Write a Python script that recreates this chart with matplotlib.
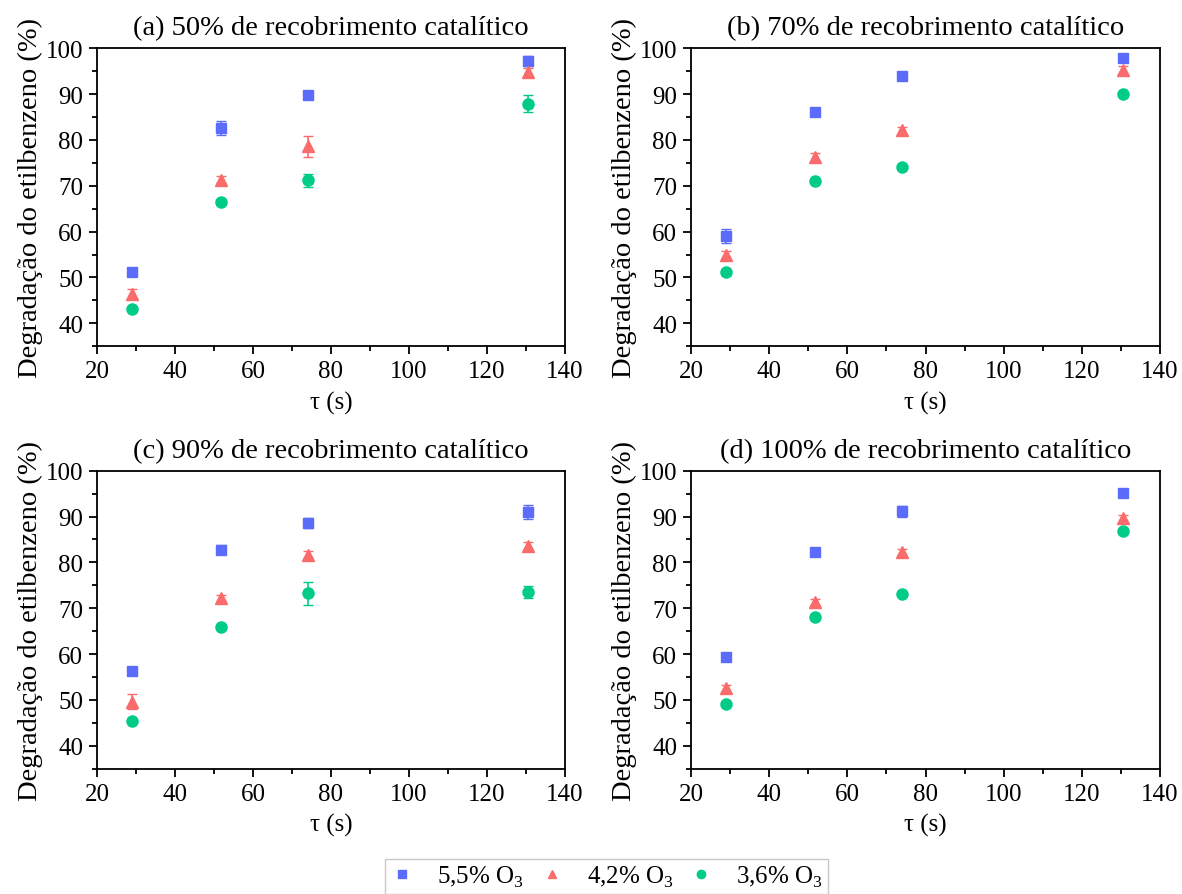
import numpy as np
import matplotlib.pyplot as plt
from matplotlib.ticker import MultipleLocator
from matplotlib.lines import Line2D

plt.rcParams["font.family"] = ["Liberation Serif", "DejaVu Serif"]
plt.rcParams["mathtext.fontset"] = "custom"
plt.rcParams["mathtext.rm"] = "Liberation Serif"

# residence time (s)
tau = [28.9, 51.8, 74.1, 130.5]

titles = ["(a) 50% de recobrimento catalítico",
          "(b) 70% de recobrimento catalítico",
          "(c) 90% de recobrimento catalítico",
          "(d) 100% de recobrimento catalítico"]

labels = ["5,5% O$_3$", "4,2% O$_3$", "3,6% O$_3$"]

# degradation (%) per panel, per O3 level
o3_55 = [[51.2, 82.6, 89.7, 97.2],
         [59.0, 86.2, 93.9, 97.9],
         [56.2, 82.8, 88.6, 91.0],
         [59.3, 82.3, 91.1, 95.1]]
o3_55_err = [[0.3, 1.6, 0.3, 1.0],
             [1.5, 0.6, 0.3, 0.3],
             [0.3, 1.0, 1.0, 1.5],
             [0.3, 0.3, 1.3, 0.6]]
o3_42 = [[46.5, 71.3, 78.6, 94.8],
         [55.0, 76.3, 82.1, 95.2],
         [49.6, 72.2, 81.7, 83.5],
         [52.5, 71.3, 82.2, 89.6]]
o3_42_err = [[1.0, 0.8, 2.3, 0.8],
             [0.8, 0.8, 0.8, 1.0],
             [1.6, 0.7, 0.7, 1.0],
             [0.7, 0.7, 0.7, 0.7]]
o3_36 = [[43.1, 66.5, 71.2, 87.9],
         [51.2, 71.0, 74.0, 90.0],
         [45.4, 65.8, 73.3, 73.5],
         [49.2, 68.1, 73.1, 86.9]]
o3_36_err = [[0.5, 0.6, 1.45, 1.9],
             [0.7, 0.3, 0.3, 0.3],
             [0.3, 0.3, 2.5, 1.3],
             [0.3, 0.3, 0.3, 0.3]]

series = [(o3_55, o3_55_err, "s", "#5b6bfa", 7),
          (o3_42, o3_42_err, "^", "#fa6b6b", 8.5),
          (o3_36, o3_36_err, "o", "#00cc88", 8)]

fig = plt.figure(figsize=(11.82, 8.95), dpi=100)
positions = [[0.082, 0.612, 0.396, 0.333],
             [0.5846, 0.612, 0.3968, 0.333],
             [0.082, 0.140, 0.396, 0.333],
             [0.5846, 0.140, 0.3968, 0.333]]

for i, pos in enumerate(positions):
    ax = fig.add_axes(pos)
    for k, (vals, errs, mk, col, ms) in enumerate(series):
        ax.errorbar(tau, vals[i], yerr=errs[i], fmt=mk, color=col,
                    ms=ms, mec=col, elinewidth=1.2, capsize=3.5,
                    capthick=1.0)
    ax.set_xlim(20, 140)
    ax.set_ylim(35, 100)
    ax.xaxis.set_major_locator(MultipleLocator(20))
    ax.xaxis.set_minor_locator(MultipleLocator(10))
    ax.yaxis.set_minor_locator(MultipleLocator(5))
    ax.set_yticks([40, 50, 60, 70, 80, 90, 100])
    ax.tick_params(which="major", length=6, width=1.3, labelsize=18, pad=4)
    ax.tick_params(which="minor", length=3.5, width=1.3)
    for sp in ax.spines.values():
        sp.set_linewidth(1.3)
    ax.set_title(titles[i], fontsize=20.5, pad=10)
    ax.set_xlabel("τ (s)", fontsize=18, labelpad=6)
    ax.set_ylabel("Degradação do etilbenzeno (%)", fontsize=20.5, labelpad=2)

handles = [Line2D([], [], ls="none", marker=mk, color=col, ms=ms * 0.75)
           for (_, _, mk, col, ms) in series]
leg = fig.legend(handles=handles, labels=labels, loc="lower center", ncol=3,
                 bbox_to_anchor=(0.513, -0.014), fontsize=18, frameon=True,
                 fancybox=False, edgecolor="#bbbbbb", handletextpad=0.9,
                 columnspacing=0.6, borderpad=0.2, handlelength=1.0)
leg.get_frame().set_linewidth(1.0)

fig.savefig("out.png", dpi=100)
